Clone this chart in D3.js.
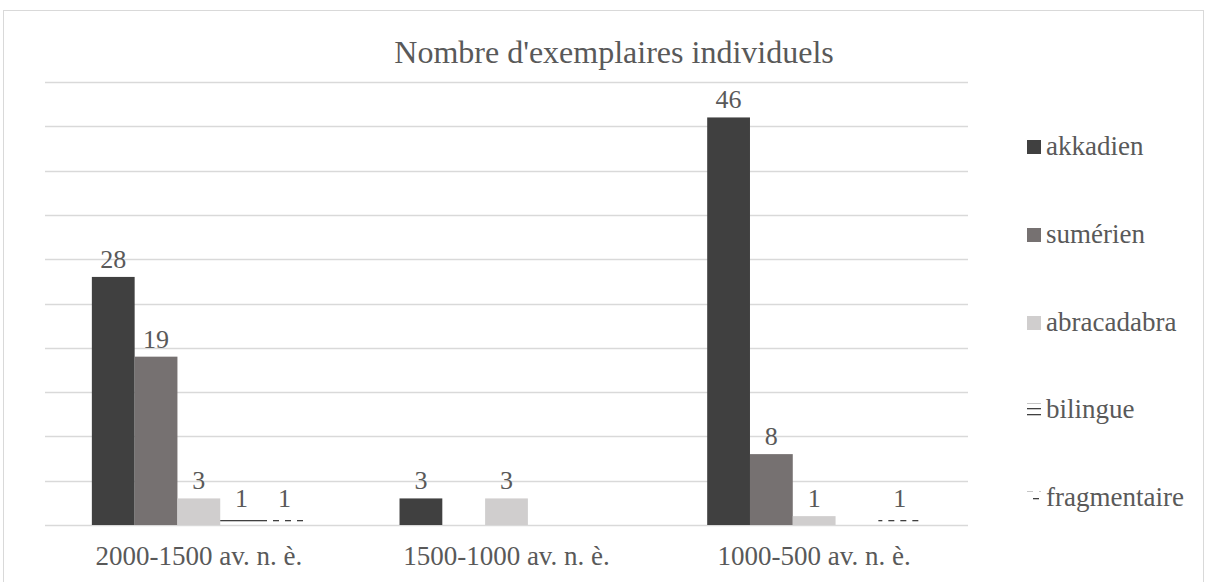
<!DOCTYPE html>
<html>
<head>
<meta charset="utf-8">
<script src="https://cdn.jsdelivr.net/npm/d3@7"></script>
<style>
  html, body { margin: 0; padding: 0; background: #ffffff; }
  svg { display: block; }
</style>
</head>
<body>
<svg id="chart" width="1213" height="582"></svg>
<script>
const categories = ["2000-1500 av. n. è.", "1500-1000 av. n. è.", "1000-500 av. n. è."];
const seriesNames = ["akkadien", "sumérien", "abracadabra", "bilingue", "fragmentaire"];
const akkadien = [28, 3, 46];
const sumerien = [19, 0, 8];
const abracadabra = [3, 3, 1];
const bilingue = [1, 0, 0];
const fragmentaire = [1, 0, 1];
const yTicks = [0, 5, 10, 15, 20, 25, 30, 35, 40, 45, 50];
const titleText = "Nombre d'exemplaires individuels";

const seriesValues = [akkadien, sumerien, abracadabra, bilingue, fragmentaire];
const fills = ["#404040", "#767171", "#d0cece", "url(#pBilingue)", "url(#pFrag)"];
const FONT = "'Liberation Serif', 'Times New Roman', 'DejaVu Serif', serif";
const TXT = "#595959";

const svg = d3.select("#chart").style("font-family", FONT);

// patterns
const defs = svg.append("defs");
const pb = defs.append("pattern").attr("id", "pBilingue")
  .attr("patternUnits", "userSpaceOnUse").attr("width", 8).attr("height", 6);
pb.append("rect").attr("x", 0).attr("y", 4).attr("width", 8).attr("height", 1.3).attr("fill", "#404040");
const pf = defs.append("pattern").attr("id", "pFrag")
  .attr("patternUnits", "userSpaceOnUse").attr("width", 12).attr("height", 16);
pf.append("rect").attr("x", 0).attr("y", 8).attr("width", 6).attr("height", 1.3).attr("fill", "#404040");
pf.append("rect").attr("x", 6).attr("y", 0).attr("width", 6).attr("height", 1.3).attr("fill", "#404040");

// outer border
svg.append("rect").attr("x", 3.5).attr("y", 10.5).attr("width", 1200).attr("height", 600)
  .attr("fill", "none").attr("stroke", "#d9d9d9").attr("stroke-width", 1);

const plot = { left: 45, right: 968, top: 82, bottom: 525 };

const x0 = d3.scaleBand().domain(categories).range([plot.left, plot.right])
  .paddingInner(0).paddingOuter(0);
const bw = x0.bandwidth() / (5 + 2.19);
const x1 = d3.scaleBand().domain(seriesNames)
  .range([bw * 1.095, bw * 1.095 + bw * 5]).padding(0);
const y = d3.scaleLinear().domain([0, 50]).range([plot.bottom, plot.top]);

// gridlines
svg.append("g").selectAll("line").data(yTicks).join("line")
  .attr("x1", plot.left).attr("x2", plot.right)
  .attr("y1", d => Math.round(y(d)) + 0.5).attr("y2", d => Math.round(y(d)) + 0.5)
  .attr("stroke", "#d9d9d9").attr("stroke-width", 1.5);

// bars
const groups = svg.append("g").selectAll("g").data(categories).join("g")
  .attr("transform", d => `translate(${x0(d)},0)`);

groups.each(function(cat, ci) {
  const g = d3.select(this);
  seriesNames.forEach((s, si) => {
    const v = seriesValues[si][ci];
    if (v > 0) {
      g.append("rect")
        .attr("x", x1(s)).attr("width", x1.bandwidth())
        .attr("y", y(v)).attr("height", y(0) - y(v))
        .attr("fill", fills[si]);
      g.append("text")
        .attr("x", x1(s) + x1.bandwidth() / 2)
        .attr("y", y(v) - 9)
        .attr("text-anchor", "middle")
        .attr("font-family", FONT).attr("fill", TXT)
        .attr("font-size", 26)
        .text(v);
    }
  });
});

// x axis labels
const xAxis = d3.axisBottom(x0).tickSize(0).tickPadding(0);
const ax = svg.append("g").attr("transform", `translate(0,${plot.bottom})`).call(xAxis);
ax.attr("font-family", FONT);
ax.select(".domain").remove();
ax.selectAll("text").attr("font-size", 27).attr("dy", 0).attr("y", 40)
  .attr("font-family", FONT).attr("fill", TXT);

// title
svg.append("text").attr("x", 614).attr("y", 63).attr("text-anchor", "middle")
  .attr("font-family", FONT).attr("fill", TXT)
  .attr("font-size", 32).text(titleText);

// legend
const legendY = [147, 235, 323, 410, 498];
const lg = svg.append("g").selectAll("g").data(seriesNames).join("g")
  .attr("transform", (d, i) => `translate(1027,${legendY[i]})`);
lg.append("rect").attr("x", 0).attr("y", -7).attr("width", 14).attr("height", 14)
  .attr("fill", (d, i) => fills[i]);
lg.append("text").attr("x", 19).attr("y", 8).attr("font-size", 27)
  .attr("font-family", FONT).attr("fill", TXT).text(d => d);
</script>
</body>
</html>
